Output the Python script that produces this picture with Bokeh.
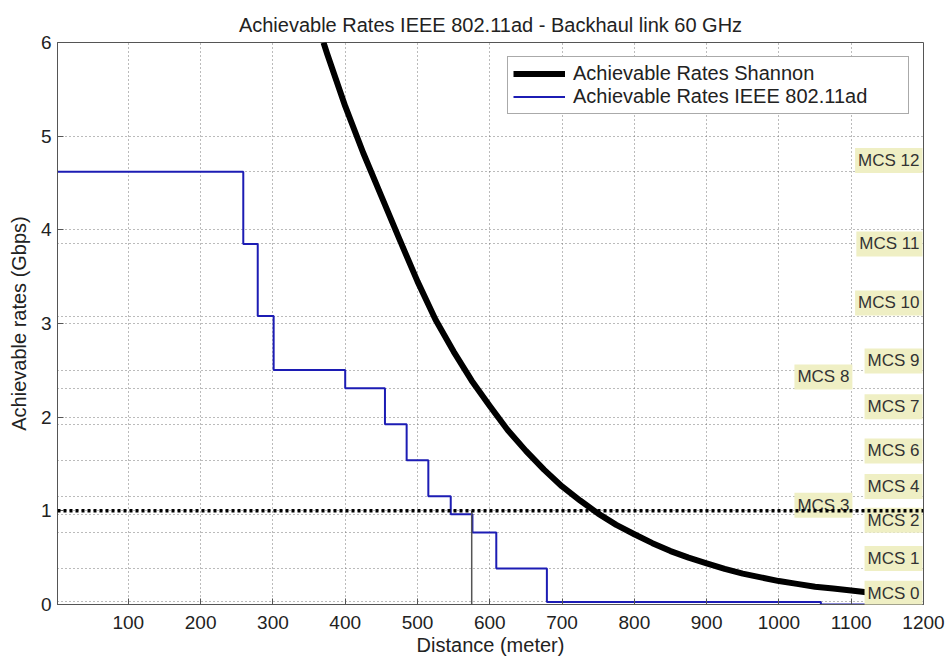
from bokeh.plotting import figure
from bokeh.models import Span, Label, Legend, LegendItem, FixedTicker
from bokeh.embed import file_html
from bokeh.resources import INLINE

# ---------------- data ----------------
# Shannon achievable rate curve (distance in m, rate in Gbps)
shannon_dist = [370, 375, 400, 425, 450, 475, 500, 525, 550, 575, 600, 625, 650, 675,
                700, 725, 750, 775, 800, 825, 850, 875, 900, 925, 950, 975, 1000,
                1025, 1050, 1075, 1100, 1121]
shannon_rate = [6.00, 5.88, 5.32, 4.82, 4.36, 3.90, 3.45, 3.04, 2.70, 2.39, 2.12, 1.86, 1.64, 1.44,
                1.26, 1.11, 0.97, 0.85, 0.75, 0.655, 0.57, 0.50, 0.44, 0.38, 0.33, 0.29, 0.25,
                0.22, 0.19, 0.17, 0.15, 0.13]

# IEEE 802.11ad step curve: rate holds from each distance to the next
step_dist = [0, 259, 279, 301, 400, 455, 485, 515, 546, 576, 609, 679, 1058, 1121]
step_rate = [4.62, 3.85, 3.08, 2.5025, 2.31, 1.925, 1.54, 1.155, 0.9625, 0.77, 0.385, 0.0275, 0.0, 0.0]

# MCS levels (Gbps) and their labels
mcs_names = ["MCS 0", "MCS 1", "MCS 2", "MCS 3", "MCS 4", "MCS 6", "MCS 7",
             "MCS 8", "MCS 9", "MCS 10", "MCS 11", "MCS 12"]
mcs_rate = [0.0275, 0.385, 0.77, 0.9625, 1.155, 1.54, 1.925, 2.31, 2.5025, 3.08, 3.85, 4.62]
mcs_label_y = [0.12, 0.49, 0.90, 1.06, 1.26, 1.64, 2.11, 2.43, 2.60, 3.22, 3.85, 4.74]
mcs_label_x = [1200, 1200, 1200, 1103, 1200, 1200, 1200, 1103, 1200, 1200, 1200, 1200]

threshold_rate = 1.0
cutoff_dist = 575

x_ticks = [100, 200, 300, 400, 500, 600, 700, 800, 900, 1000, 1100, 1200]
y_ticks = [0, 1, 2, 3, 4, 5, 6]

FONT = "Liberation Sans"
TXT = "#222222"

p = figure(width=949, height=659, x_range=(2, 1200), y_range=(0, 6),
           output_backend="svg", toolbar_location=None,
           min_border_left=57, min_border_right=26, min_border_top=42, min_border_bottom=55)

p.title.text = "Achievable Rates IEEE 802.11ad - Backhaul link 60 GHz"
p.title.align = "center"
p.title.vertical_align = "top"
p.title.text_font = FONT
p.title.text_font_size = "20px"
p.title.text_font_style = "normal"
p.title.text_color = TXT
p.title.standoff = 10

p.background_fill_color = "white"
p.border_fill_color = "white"
p.outline_line_color = "#555555"
p.outline_line_width = 1

# axes
for ax in (p.xaxis, p.yaxis):
    ax.major_tick_in = 6
    ax.major_tick_out = 0
    ax.minor_tick_in = 0
    ax.minor_tick_out = 0
    ax.axis_line_color = "#555555"
    ax.major_tick_line_color = "#555555"
    ax.major_label_text_font = FONT
    ax.major_label_text_font_size = "19px"
    ax.major_label_text_color = TXT
    ax.axis_label_text_font = FONT
    ax.axis_label_text_font_size = "20px"
    ax.axis_label_text_font_style = "normal"
    ax.axis_label_text_color = TXT
p.xaxis.ticker = FixedTicker(ticks=x_ticks)
p.yaxis.ticker = FixedTicker(ticks=y_ticks)
p.xaxis.axis_label = "Distance (meter)"
p.yaxis.axis_label = "Achievable rates (Gbps)"
p.xaxis.major_label_standoff = 11
p.xaxis.axis_label_standoff = 2
p.yaxis.major_label_standoff = 6
p.yaxis.axis_label_standoff = 8

# grids
p.xgrid.ticker = FixedTicker(ticks=x_ticks[:-1])
p.ygrid.ticker = FixedTicker(ticks=[1, 2, 3, 4, 5] + mcs_rate)
for g in (p.xgrid, p.ygrid):
    g.grid_line_color = "#777777"
    g.grid_line_dash = "1 3"
    g.grid_line_width = 1

# curves
r_shannon = p.line(shannon_dist, shannon_rate, line_color="black", line_width=6,
                   line_join="round")
r_ieee = p.step(step_dist, step_rate, mode="after", line_color="#1c1cb4", line_width=2)

# cutoff vertical line
p.segment(x0=[cutoff_dist], y0=[0], x1=[cutoff_dist], y1=[threshold_rate],
          line_color="#555555", line_width=1.5)

# MCS labels
for name, lx, ly in zip(mcs_names, mcs_label_x, mcs_label_y):
    p.add_layout(Label(x=lx, y=ly, text=name, text_align="right", text_baseline="middle",
                       x_offset=-1, text_font=FONT, text_font_size="17px", text_color="#333333",
                       background_fill_color="#efefc4", background_fill_alpha=1.0,
                       padding=3))

# threshold line at 1 Gbps (drawn above labels)
p.add_layout(Span(location=threshold_rate, dimension="width", line_color="black",
                  line_width=3.5, line_dash="3 3", level="overlay"))

legend = Legend(items=[LegendItem(label="Achievable Rates Shannon", renderers=[r_shannon]),
                       LegendItem(label="Achievable Rates IEEE 802.11ad", renderers=[r_ieee])],
                location="top_right", margin=14, padding=5, spacing=0,
                glyph_width=52, glyph_height=21, label_standoff=8, label_width=330,
                label_text_font=FONT, label_text_font_size="20px", label_text_color=TXT,
                border_line_color="#555555", border_line_width=1,
                background_fill_color="white", background_fill_alpha=1.0)
p.add_layout(legend)

open("out.html", "w").write(file_html(p, INLINE))
